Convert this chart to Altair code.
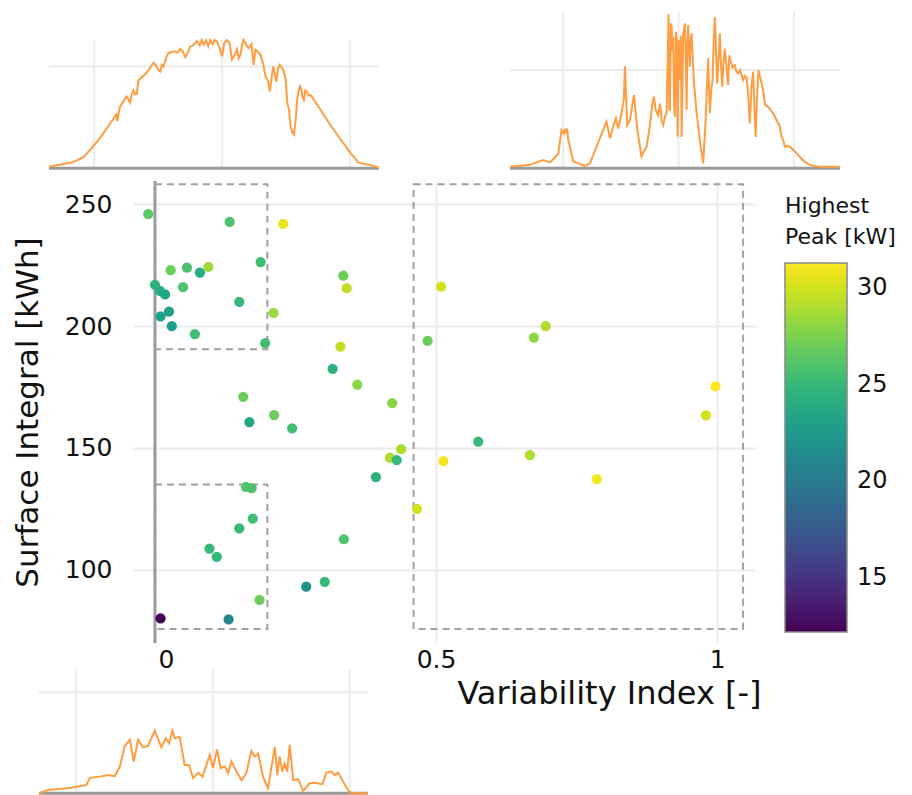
import altair as alt
import pandas as pd

FONT = "DejaVu Sans"
W, H = 623, 462          # main plot area
OX, OY = 133, 181        # page position of main plot area

# ---------------- main scatter ----------------
variability = [-0.012, 0.133, 0.228, 0.028, 0.057, 0.095, 0.08, 0.188, 0.0, 0.009,
               0.018, 0.05, 0.15, 0.211, 0.025, 0.01, 0.03, 0.071, 0.196, 0.335,
               0.341, 0.33, 0.316, 0.36, 0.422, 0.157, 0.212, 0.168, 0.244, 0.438,
               0.418, 0.43, 0.513, 0.393, 0.162, 0.172, 0.466, 0.174, 0.15, 0.336,
               0.097, 0.11, 0.302, 0.269, 0.186, 0.01, 0.131, 0.509, 0.485, 0.695,
               0.674, 0.997, 0.98, 0.575, 0.667, 0.786]
surface = [246.0, 242.8, 242.0, 223.0, 224.0, 224.3, 222.0, 226.3, 217.0, 214.5,
           213.0, 216.0, 210.0, 205.5, 206.0, 204.0, 200.0, 196.7, 193.0, 220.7,
           215.6, 191.6, 182.5, 176.0, 168.4, 171.0, 163.5, 160.6, 158.0, 149.5,
           146.0, 145.0, 144.6, 138.0, 134.0, 133.5, 125.0, 121.0, 117.0, 112.5,
           108.7, 105.3, 95.0, 93.0, 87.6, 80.0, 79.6, 216.2, 194.0, 200.0,
           195.3, 175.3, 163.4, 152.6, 147.0, 137.2]
peak = [26.5, 26.0, 30.8, 27.0, 26.0, 28.5, 24.0, 25.5, 24.5, 24.0,
        23.5, 26.0, 25.0, 28.5, 23.0, 23.0, 23.0, 25.5, 25.5, 27.0,
        29.5, 29.5, 24.5, 28.0, 28.0, 27.0, 27.0, 23.5, 25.5, 29.0,
        29.0, 25.0, 31.0, 24.5, 26.0, 26.0, 30.0, 25.5, 25.0, 26.0,
        25.0, 25.0, 25.0, 22.0, 27.0, 12.2, 21.0, 30.0, 27.0, 29.0,
        28.0, 31.3, 30.0, 25.0, 29.0, 31.0]

# dashed selection boxes
box_x0 = [0.0, 0.0, 0.46]
box_x1 = [0.2, 0.2, 1.046]
box_y0 = [190.5, 75.6, 75.6]
box_y1 = [258.3, 135.0, 258.3]

x_ticks = [0, 0.5, 1]
y_ticks = [100, 150, 200, 250]
cbar_ticks = [15, 20, 25, 30]

# ---------------- inset profiles (hour, kW) ----------------
tl_hours = [3.88, 4.5, 5.0, 5.5, 5.87, 6.2, 6.42, 6.75, 7.0, 7.05,
            7.08, 7.2, 7.35, 7.52, 7.6, 7.68, 7.76, 7.84, 7.92, 8.0,
            8.07, 8.2, 8.35, 8.46, 8.6, 8.78, 8.9, 9.0, 9.09, 9.18,
            9.25, 9.4, 9.48, 9.6, 9.75, 9.9, 10.03, 10.15, 10.27, 10.4,
            10.5, 10.65, 10.82, 10.95, 11.05, 11.13, 11.25, 11.35, 11.44, 11.55,
            11.65, 11.76, 11.88, 12.0, 12.1, 12.23, 12.35, 12.46, 12.58, 12.7,
            12.78, 12.86, 12.93, 13.0, 13.12, 13.25, 13.38, 13.48, 13.56, 13.68,
            13.8, 13.92, 14.04, 14.15, 14.24, 14.32, 14.4, 14.48, 14.55, 14.62,
            14.7, 14.8, 14.9, 14.98, 15.06, 15.14, 15.21, 15.3, 15.37, 15.45,
            15.52, 15.58, 15.65, 15.72, 15.78, 15.84, 15.9, 15.96, 16.05, 16.15,
            16.6, 17.0, 17.5, 18.03, 18.4, 18.9, 19.36]
tl_kw = [0.3, 0.8, 1.2, 2.2, 3.9, 5.6, 6.8, 8.8, 10.3, 10.8,
         9.3, 12.0, 13.0, 14.1, 13.6, 12.9, 14.6, 15.3, 14.5, 14.6,
         17.2, 17.8, 18.3, 18.8, 19.6, 20.7, 20.2, 19.4, 19.0, 20.3,
         20.0, 22.0, 22.6, 22.8, 23.0, 22.7, 23.4, 23.0, 21.8, 22.8,
         23.9, 24.2, 25.0, 24.1, 25.2, 24.3, 25.1, 24.0, 25.2, 24.4,
         25.2, 24.9, 23.6, 22.0, 24.6, 25.2, 24.6, 21.4, 22.2, 23.4,
         21.6, 22.3, 24.0, 25.2, 24.3, 23.6, 24.4, 20.3, 23.3, 22.9,
         22.3, 20.6, 18.0, 17.2, 15.1, 17.8, 20.0, 18.2, 17.0, 19.5,
         20.3, 19.8, 19.0, 17.5, 12.8, 11.5, 8.2, 7.0, 6.6, 9.5,
         13.4, 15.0, 16.1, 15.5, 13.8, 13.4, 15.3, 15.1, 14.3, 14.4,
         11.6, 9.0, 6.0, 3.0, 1.1, 0.7, 0.1]

tr_hours = [3.23, 4.27, 4.96, 5.31, 5.74, 5.91, 6.03, 6.1, 6.14, 6.2,
            6.26, 6.52, 7.13, 7.39, 8.25, 8.43, 8.6, 8.74, 8.86, 9.03,
            9.15, 9.21, 9.27, 9.33, 9.47, 9.68, 9.85, 10.07, 10.2, 10.34,
            10.51, 10.65, 10.72, 10.8, 10.94, 11.03, 11.12, 11.2, 11.3, 11.38,
            11.48, 11.52, 11.55, 11.6, 11.64, 11.68, 11.72, 11.77, 11.81, 11.86,
            11.9, 11.95, 12.0, 12.03, 12.08, 12.12, 12.16, 12.2, 12.24, 12.29,
            12.33, 12.38, 12.42, 12.46, 12.5, 12.55, 12.59, 12.63, 12.68, 12.74,
            12.8, 12.95, 13.1, 13.28, 13.4, 13.54, 13.58, 13.63, 13.7, 13.77,
            13.83, 13.89, 13.95, 14.01, 14.08, 14.15, 14.21, 14.27, 14.34, 14.41,
            14.5, 14.58, 14.64, 14.7, 14.8, 14.93, 15.0, 15.1, 15.2, 15.36,
            15.45, 15.54, 15.62, 15.71, 15.8, 15.88, 15.95, 16.01, 16.08, 16.16,
            16.25, 16.4, 16.5, 16.66, 16.8, 16.92, 17.1, 17.27, 17.35, 17.44,
            17.53, 17.65, 17.79, 18.14, 18.5, 18.83, 19.27, 20.4]
tr_kw = [0.3, 0.7, 1.7, 1.2, 2.9, 7.8, 7.1, 8.0, 7.2, 8.1,
         5.8, 1.4, 0.5, 1.0, 9.5, 6.1, 8.5, 10.2, 8.1, 11.2,
         14.0, 20.8, 14.5, 8.8, 9.8, 14.9, 8.0, 2.4, 3.5, 4.4,
         8.8, 13.5, 14.6, 12.0, 10.8, 13.2, 9.8, 8.8, 10.6, 11.2,
         31.4, 12.0, 11.9, 29.5, 28.8, 24.0, 26.8, 12.5, 10.5, 27.8,
         26.5, 6.5, 24.0, 26.1, 18.0, 27.0, 6.4, 15.0, 27.5, 28.5,
         29.5, 22.0, 11.9, 25.0, 29.2, 24.0, 20.7, 25.8, 27.5, 22.0,
         17.3, 11.0, 6.0, 1.0, 9.0, 22.4, 17.0, 11.2, 16.0, 18.0,
         26.0, 30.8, 24.0, 17.3, 22.0, 27.5, 21.0, 16.6, 21.5, 24.4,
         20.5, 17.0, 23.0, 22.0, 20.5, 21.0, 19.8, 19.3, 20.0, 18.0,
         18.8, 18.3, 15.0, 9.2, 17.0, 19.7, 12.0, 6.4, 14.0, 20.0,
         18.5, 15.9, 13.0, 12.5, 11.8, 11.2, 9.8, 8.5, 6.5, 5.8,
         4.4, 4.6, 4.4, 3.1, 1.5, 0.7, 0.3, 0.3]

bl_hours = [4.39, 4.79, 5.81, 6.47, 6.61, 6.83, 7.05, 7.42, 7.71, 7.93,
            8.15, 8.37, 8.54, 8.73, 8.95, 9.17, 9.46, 9.75, 9.94, 10.09,
            10.23, 10.34, 10.55, 10.77, 10.96, 11.14, 11.36, 11.55, 11.87, 12.01,
            12.19, 12.34, 12.53, 12.67, 12.82, 13.04, 13.26, 13.47, 13.69, 13.84,
            13.99, 14.2, 14.42, 14.72, 14.83, 14.93, 15.05, 15.15, 15.26, 15.37,
            15.52, 15.74, 15.96, 16.25, 16.47, 16.8, 16.98, 17.2, 17.34, 17.49,
            17.71, 17.97, 18.15, 18.8]
bl_kw = [0.0, 0.66, 1.1, 1.65, 3.0, 3.2, 3.3, 3.6, 3.4, 5.3,
         9.4, 10.6, 6.3, 10.6, 9.1, 9.4, 12.4, 9.1, 10.9, 9.9,
         12.4, 10.9, 11.2, 5.6, 5.6, 3.0, 4.1, 3.3, 7.6, 5.0,
         8.7, 5.0, 5.3, 4.0, 6.3, 4.3, 2.6, 4.0, 8.4, 7.3,
         7.9, 3.3, 1.0, 9.2, 3.6, 7.3, 4.3, 5.9, 4.3, 9.6,
         2.6, 2.8, 0.5, 2.0, 2.1, 1.8, 4.1, 4.3, 3.6, 4.1,
         2.3, 0.3, 0.0, 0.0]

inset_grid_hours = [6, 12, 18]
inset_grid_kw = 20

# ---------------- styles ----------------
LINE_COLOR = "#ff9d42"
GRID_COLOR = "#ececec"
ZERO_COLOR = "#9a9a9a"
TEXT_COLOR = "#111111"

xs = alt.Scale(domain=[-0.039, 1.069], nice=False, zero=False)
ys = alt.Scale(domain=[69.9, 259.6], nice=False, zero=False)

df = pd.DataFrame({"vi": variability, "si": surface, "peak": peak})
bdf = pd.DataFrame({"x0": box_x0, "x1": box_x1, "y0": box_y0, "y1": box_y1})

zero_line = alt.Chart(pd.DataFrame({"z": [0]})).mark_rule(
    color=ZERO_COLOR, strokeWidth=3).encode(x=alt.X("z:Q", scale=xs, axis=None))

boxes = alt.Chart(bdf).mark_rect(
    fillOpacity=0, stroke="#a0a0a0", strokeWidth=2, strokeDash=[7, 5]).encode(
    x=alt.X("x0:Q", scale=xs, axis=None), x2="x1:Q",
    y=alt.Y("y0:Q", scale=ys, axis=None), y2="y1:Q")

points = alt.Chart(df).mark_circle(size=105, opacity=1).encode(
    x=alt.X("vi:Q", scale=xs, axis=alt.Axis(
        values=x_ticks, format="~g", title="Variability Index [-]",
        grid=True, gridColor=GRID_COLOR, gridWidth=2, domain=False, ticks=False, tickSize=0,
        labelFontSize=25, labelColor=TEXT_COLOR, labelPadding=4,
        labelOffset={"condition": {"test": "datum.value === 0", "value": 11}, "value": 0},
        titleFontSize=32, titleFontWeight="normal", titleColor=TEXT_COLOR,
        titleX=476, titleY=60, titleAlign="center", titleBaseline="alphabetic")),
    y=alt.Y("si:Q", scale=ys, axis=alt.Axis(
        values=y_ticks, title="Surface Integral [kWh]",
        grid=True, gridColor=GRID_COLOR, gridWidth=2, domain=False, ticks=False, tickSize=0,
        labelFontSize=25, labelColor=TEXT_COLOR, labelPadding=21,
        titleFontSize=31, titleFontWeight="normal", titleColor=TEXT_COLOR,
        titleX=-96, titleY=231, titleAngle=270, titleAlign="center",
        titleBaseline="alphabetic")),
    color=alt.Color("peak:Q", scale=alt.Scale(scheme="viridis", nice=False, zero=False),
                    legend=alt.Legend(
                        title=["Highest", "Peak [kW]"], orient="none",
                        legendX=652, legendY=15, direction="vertical",
                        gradientLength=369, gradientThickness=62,
                        gradientStrokeColor="#888888", gradientStrokeWidth=1.5,
                        values=cbar_ticks, labelFontSize=24, labelColor=TEXT_COLOR,
                        labelOffset=10, titleFontSize=22, titleFontWeight="normal",
                        titleColor=TEXT_COLOR, titleLineHeight=31, titlePadding=14,
                        padding=0)))


def inset(hours, kw, page_x, page_y, ymax):
    xsc = alt.Scale(domain=[hours[0], hours[-1]], range=[page_x[0] - OX, page_x[1] - OX],
                    nice=False, zero=False)
    ysc = alt.Scale(domain=[0, ymax], range=[page_y[0] - OY, page_y[1] - OY],
                    nice=False, zero=False)
    vgrid = pd.DataFrame({"h": inset_grid_hours, "lo": 0.0, "hi": ymax})
    hgrid = pd.DataFrame({"h0": [hours[0]], "h1": [hours[-1]], "k": [inset_grid_kw]})
    base = pd.DataFrame({"h0": [hours[0]], "h1": [hours[-1]], "k": [0.0]})
    prof = pd.DataFrame({"h": hours, "kw": kw})
    g1 = alt.Chart(vgrid).mark_rule(color=GRID_COLOR, strokeWidth=2).encode(
        x=alt.X("h:Q", scale=xsc, axis=None),
        y=alt.Y("lo:Q", scale=ysc, axis=None), y2="hi:Q")
    g2 = alt.Chart(hgrid).mark_rule(color=GRID_COLOR, strokeWidth=2).encode(
        x=alt.X("h0:Q", scale=xsc, axis=None), x2="h1:Q",
        y=alt.Y("k:Q", scale=ysc, axis=None))
    b = alt.Chart(base).mark_rule(color=ZERO_COLOR, strokeWidth=3).encode(
        x=alt.X("h0:Q", scale=xsc, axis=None), x2="h1:Q",
        y=alt.Y("k:Q", scale=ysc, axis=None))
    ln = alt.Chart(prof).mark_line(color=LINE_COLOR, strokeWidth=2).encode(
        x=alt.X("h:Q", scale=xsc, axis=None),
        y=alt.Y("kw:Q", scale=ysc, axis=None))
    return [g1, g2, b, ln]


layers = [zero_line, boxes, points]
layers += inset(tl_hours, tl_kw, (49, 379), (168.3, 40), 25.2)
layers += inset(tr_hours, tr_kw, (510, 840), (168.3, 11.7), 31.9)
layers += inset(bl_hours, bl_kw, (39, 368), (793.3, 668.3), 24.75)

chart = alt.layer(*layers).resolve_scale(
    x="independent", y="independent"
).properties(
    width=W, height=H,
    padding={"left": OX - 8, "top": OY - 8, "right": 148, "bottom": 152},
    autosize=alt.AutoSizeParams(type="none"),
).configure(font=FONT).configure_view(stroke=None)

chart.save("out.html", embed_options={"renderer": "svg", "actions": False})
